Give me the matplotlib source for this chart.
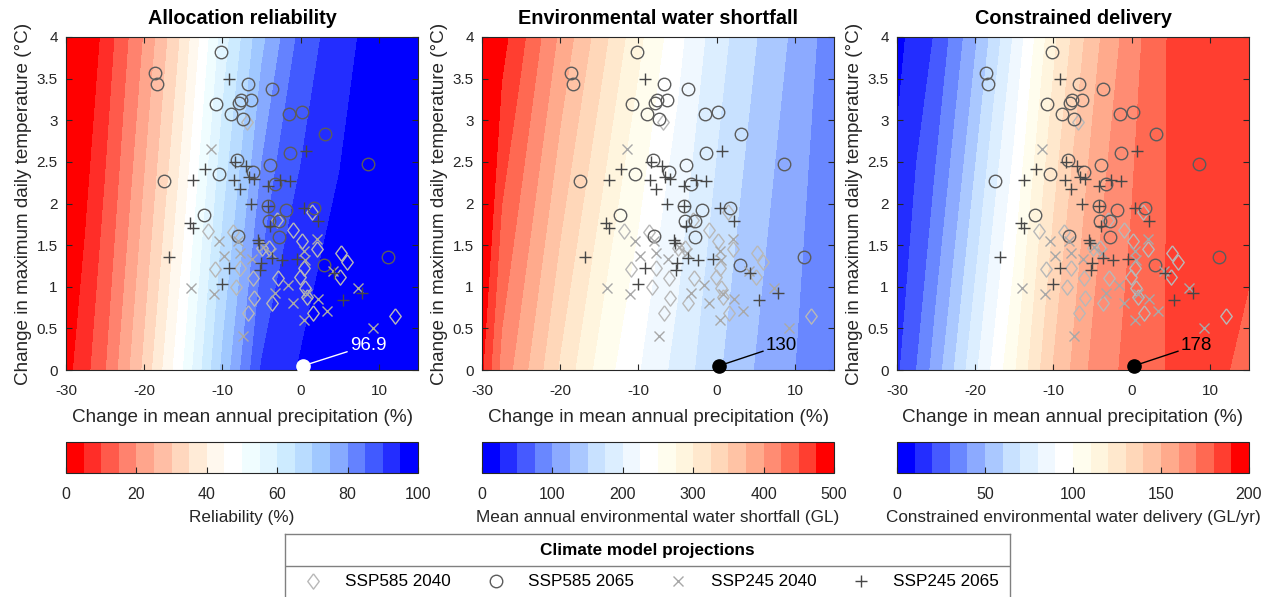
import numpy as np
import matplotlib
matplotlib.use('Agg')
import matplotlib.pyplot as plt
from matplotlib.colors import ListedColormap, BoundaryNorm
from matplotlib.cm import ScalarMappable
from matplotlib.lines import Line2D

plt.rcParams['font.family'] = ['Liberation Sans', 'DejaVu Sans']
plt.rcParams['axes.unicode_minus'] = False

# response surfaces at T = 0 and T = 4 degC
precip_grid = [-30, -27.5, -25, -20, -15, -10, -5, 0, 5, 10, 15]
temp_grid = [0, 4]

reliability = [
    [3, 8.3, 14.5, 31, 50, 71, 90.5, 95.5, 97.5, 98.5, 99],
    [-6, 0.3, 6.5, 20.3, 36.3, 57, 73.5, 86.5, 93.3, 97, 99],
]
shortfall = [
    [478, 417, 386, 321, 265, 226.5, 191, 154, 123, 100, 80],
    [511, 484, 457, 394.6, 338, 281, 233, 186, 151, 119, 85],
]
delivery = [
    [18, 30, 44.7, 77.9, 108.7, 140.6, 162.4, 173.75, 181, 182, 178],
    [7, 13.9, 21, 48.2, 81.3, 117.3, 145.9, 165.9, 181.5, 185, 186],
]

# historical point and its label in each panel
hist_p, hist_t = 0.3, 0.05
hist_labels = ['96.9', '130', '178']

# climate model projections (precip change %, tmax change degC)
ssp585_2040_p = [-6.83, 1.41, -11.82, -8.71, -0.94, 0.21, -4.01, 2.05, 5.16, 5.89, 0.47, -7.77, -10.97,
                 -6.06, -0.09, -2.86, 5.04, -8.32, 0.55, -5.93, -3.63, 0.77, 1.62, -6.70, 12.08, -3.07, -4.99]
ssp585_2040_t = [2.98, 1.90, 1.67, 1.66, 1.68, 1.55, 1.46, 1.45, 1.41, 1.30, 1.23, 1.23, 1.21,
                 1.10, 1.12, 1.10, 1.12, 1.00, 0.98, 0.87, 0.81, 0.88, 0.69, 0.68, 0.65, 1.80, 1.46]

ssp585_2065_p = [-10.2, -18.57, -18.31, -6.79, -3.63, -10.84, -7.64, -6.36, -7.90, -8.92, -7.43, -1.45,
                 0.13, 3.12, -1.37, -8.19, -3.88, -6.06, -10.46, -17.50, 8.66, -3.29, -4.23, -1.92,
                 1.75, -12.33, -4.10, -2.77, -2.77, -8.07, 3.03, 11.18]
ssp585_2065_t = [3.82, 3.57, 3.43, 3.43, 3.38, 3.19, 3.24, 3.24, 3.21, 3.07, 3.02, 3.08,
                 3.10, 2.84, 2.61, 2.52, 2.46, 2.38, 2.36, 2.27, 2.47, 2.24, 1.97, 1.92,
                 1.94, 1.86, 1.79, 1.79, 1.60, 1.61, 1.26, 1.36]

ssp245_2040_p = [-11.52, -10.50, -9.82, -7.98, -7.77, -6.19, -4.78, -3.84, -14.08, -11.14, -7.43, -1.58,
                 -0.94, 0.47, 0.77, 2.18, 3.33, 2.05, 0.47, 4.18, 7.38, 9.30, -3.29, 0.55]
ssp245_2040_t = [2.66, 1.55, 1.37, 1.55, 1.41, 1.33, 1.48, 1.41, 0.99, 0.91, 0.41, 1.02,
                 0.81, 0.60, 0.91, 0.85, 0.71, 1.57, 1.43, 1.19, 0.98, 0.51, 0.92, 1.32]

ssp245_2065_p = [-9.18, 0.64, -8.41, -7.04, -12.25, -13.74, -8.54, -5.93, -6.62, -7.73, -4.14, -2.65,
                 -1.37, -6.36, -4.23, 0.47, 2.18, -14.17, -13.74, -3.93, -5.42, -5.34, -16.86, -5.08,
                 -3.63, -2.35, -0.51, -9.13, -5.21, -10.03, 4.27, 5.38, 7.81]
ssp245_2065_t = [3.49, 2.63, 2.50, 2.45, 2.41, 2.28, 2.28, 2.29, 2.32, 2.17, 2.21, 2.28,
                 2.27, 2.00, 1.97, 1.95, 1.79, 1.76, 1.70, 1.73, 1.56, 1.52, 1.36, 1.29,
                 1.35, 1.32, 1.33, 1.23, 1.20, 1.03, 1.17, 0.84, 0.93]

titles = ['Allocation reliability', 'Environmental water shortfall', 'Constrained delivery']
cbar_labels = ['Reliability (%)', 'Mean annual environmental water shortfall (GL)',
               'Constrained environmental water delivery (GL/yr)']
cbar_max = [100, 500, 200]
cbar_ticks = [[0, 20, 40, 60, 80, 100], [0, 100, 200, 300, 400, 500], [0, 50, 100, 150, 200]]
x_ticks = [-30, -20, -10, 0, 10]
y_ticks = [0, 0.5, 1, 1.5, 2, 2.5, 3, 3.5, 4]
y_ticklabels = ['0', '0.5', '1', '1.5', '2', '2.5', '3', '3.5', '4']
legend_labels = ['SSP585 2040', 'SSP585 2065', 'SSP245 2040', 'SSP245 2065']

# 20-step diverging palettes taken from the colour bars
red_to_blue = [(255, 0, 0), (255, 45, 40), (255, 90, 75), (255, 130, 110), (255, 165, 140),
               (255, 190, 165), (255, 215, 190), (255, 235, 215), (255, 248, 238), (255, 255, 255),
               (240, 253, 255), (225, 245, 255), (205, 235, 255), (185, 220, 255), (160, 200, 255),
               (135, 170, 255), (100, 130, 255), (65, 90, 255), (35, 45, 255), (0, 0, 255)]
blue_to_red = [(0, 0, 255), (35, 45, 255), (70, 90, 255), (105, 135, 255), (140, 170, 255),
               (170, 200, 255), (200, 225, 255), (220, 238, 255), (240, 248, 255), (255, 255, 255),
               (255, 253, 238), (255, 245, 222), (255, 232, 205), (255, 215, 185), (255, 195, 165),
               (255, 170, 140), (255, 140, 115), (255, 105, 82), (255, 62, 48), (255, 0, 0)]


def make_cmap(rgb):
    cols = [(r / 255, g / 255, b / 255) for r, g, b in rgb]
    cmap = ListedColormap(cols)
    cmap.set_under(cols[0])
    cmap.set_over(cols[-1])
    return cmap


diamond = [(0, 1), (0.75, 0), (0, -1), (-0.75, 0), (0, 1)]
styles = [
    dict(linestyle='none', marker=diamond, markersize=11, mfc='none', mec=(0.72, 0.72, 0.72), mew=1.0),
    dict(linestyle='none', marker='o', markersize=9, mfc='none', mec=(0.36, 0.36, 0.36), mew=1.0),
    dict(linestyle='none', marker='x', markersize=6.5, color=(0.66, 0.66, 0.66), mew=1.0),
    dict(linestyle='none', marker='+', markersize=8.5, color=(0.28, 0.28, 0.28), mew=1.0),
]
groups = [(ssp585_2040_p, ssp585_2040_t), (ssp585_2065_p, ssp585_2065_t),
          (ssp245_2040_p, ssp245_2040_t), (ssp245_2065_p, ssp245_2065_t)]

fields = [reliability, shortfall, delivery]
cmaps = [make_cmap(red_to_blue), make_cmap(blue_to_red), make_cmap(blue_to_red)]
label_colors = ['white', 'black', 'black']

W, H = 1269, 597
fig = plt.figure(figsize=(W / 100, H / 100), dpi=100)
dark = (0.15, 0.15, 0.15)

lefts = [66, 482, 897]
for i in range(3):
    ax = fig.add_axes([lefts[i] / W, (H - 370) / H, 352 / W, 333 / H])
    levels = np.linspace(0, cbar_max[i], 21)
    norm = BoundaryNorm(levels, 20)
    PP, TT = np.meshgrid(precip_grid, temp_grid)
    ax.contourf(PP, TT, np.array(fields[i]), levels=levels, cmap=cmaps[i], norm=norm, extend='both')

    for (gp, gt), st in zip(groups, styles):
        ax.plot(gp, gt, **st)

    lc = label_colors[i]
    ax.annotate(hist_labels[i], xy=(hist_p, hist_t), xytext=(6.3, 0.3), color=lc,
                fontsize=13.5, ha='left', va='center',
                arrowprops=dict(arrowstyle='-', color=lc, lw=1, shrinkA=0, shrinkB=0))
    ax.plot([hist_p], [hist_t], 'o', markersize=9.5, color=lc, clip_on=False, zorder=5)

    ax.set_xlim(-30, 15)
    ax.set_ylim(0, 4)
    ax.set_xticks(x_ticks)
    ax.set_yticks(y_ticks)
    ax.set_yticklabels(y_ticklabels)
    ax.tick_params(direction='in', top=True, right=True, length=4, width=0.8,
                   labelsize=11, color=dark, labelcolor=dark)
    ax.tick_params(axis='x', pad=10)
    ax.tick_params(axis='y', pad=6)
    for s in ax.spines.values():
        s.set_color(dark)
        s.set_linewidth(0.8)
    ax.set_xlabel('Change in mean annual precipitation (%)', fontsize=13.6, color=dark, labelpad=8)
    ax.set_ylabel('Change in maximum daily temperature (\u00b0C)', fontsize=13.6, color=dark, labelpad=3)
    ax.set_title(titles[i], fontsize=14.3, fontweight='bold', pad=9)

    cax = fig.add_axes([lefts[i] / W, (H - 473) / H, 352 / W, 31 / H])
    cb = fig.colorbar(ScalarMappable(norm=norm, cmap=cmaps[i]), cax=cax, orientation='horizontal')
    cb.set_ticks(cbar_ticks[i])
    cb.minorticks_off()
    cb.ax.tick_params(direction='in', length=4, width=0.8, labelsize=11.5, color=dark,
                      labelcolor=dark, pad=10)
    cb.outline.set_edgecolor(dark)
    cb.outline.set_linewidth(0.8)
    cb.set_label(cbar_labels[i], fontsize=12.3, color=dark, labelpad=6)

# legend box at the bottom
lax = fig.add_axes([285 / W, -30 / H, 725 / W, 93 / H])
lax.set_xlim(0, 725)
lax.set_ylim(627, 534)
lax.set_xticks([])
lax.set_yticks([])
for s in lax.spines.values():
    s.set_color((0.5, 0.5, 0.5))
    s.set_linewidth(1)
lax.axhline(566, color=(0.5, 0.5, 0.5), lw=1)
lax.text(362.5, 551, 'Climate model projections', ha='center', va='center',
         fontsize=12.3, fontweight='bold')
handles = [Line2D([], [], **st) for st in styles]
lax.legend(handles, legend_labels, ncol=4, loc='center', bbox_to_anchor=(0.5, 45 / 93),
           frameon=False, fontsize=12.3, handlelength=2.0, handletextpad=0.9, columnspacing=1.6)

fig.savefig('out.png', dpi=100)
